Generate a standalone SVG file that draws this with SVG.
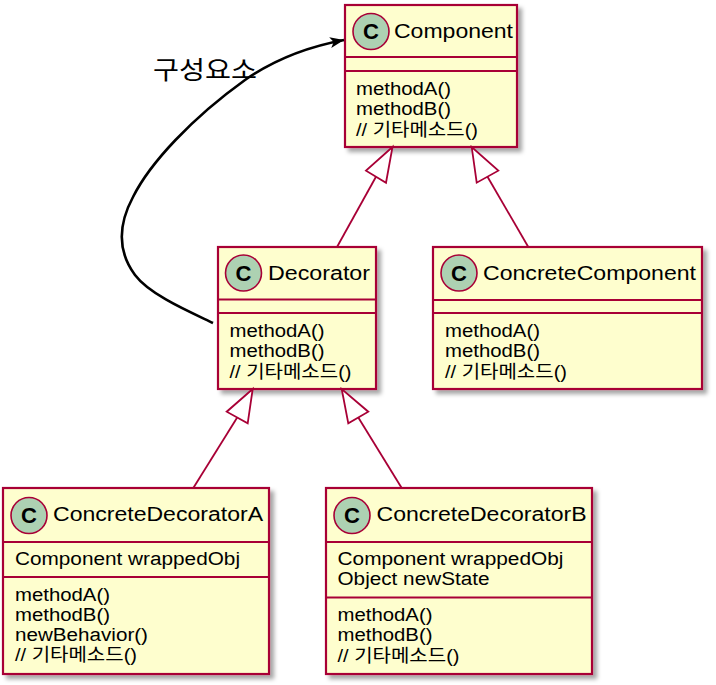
<svg xmlns="http://www.w3.org/2000/svg" width="716" height="685" viewBox="0 0 716 685">
  <defs>
    <filter id="shadow" x="-10%" y="-10%" width="130%" height="130%">
      <feDropShadow dx="4" dy="4" stdDeviation="2.2" flood-color="#000" flood-opacity="0.35"/>
    </filter>
    <marker id="arrow" markerUnits="userSpaceOnUse" markerWidth="15" markerHeight="12" refX="14" refY="5.5" orient="auto" viewBox="0 0 15 11">
      <path d="M0,0 L14,5.5 L0,11 L3.5,5.5 z" fill="#000"/>
    </marker>
  </defs>
  <style>
    .box { fill: #FEFECE; stroke: #A80036; stroke-width: 2.2; }
    .sep { stroke: #A80036; stroke-width: 2; }
    .badge { fill: #ADD1B2; stroke: #A80036; stroke-width: 1.6; }
    .badgeC { font-family: "Liberation Sans", Arial, sans-serif; font-weight: bold; font-size: 22px; fill: #000; text-anchor: middle; }
    .title { font-family: "Liberation Sans", Arial, sans-serif; font-size: 19.5px; fill: #000; }
    .mem { font-family: "Liberation Sans", "Noto Sans CJK KR", sans-serif; font-size: 18px; fill: #000; }
    .inh { stroke: #A80036; stroke-width: 1.8; fill: none; }
    .tri { stroke: #A80036; stroke-width: 1.8; fill: #FFFFFF; }
    .assoc { stroke: #000; stroke-width: 2.6; fill: none; }
    .lbl { font-family: "Noto Sans CJK KR", sans-serif; font-size: 25px; fill: #000; }
  </style>

  <g id="Component">
    <rect class="box" x="345" y="5" width="172" height="142" filter="url(#shadow)"/>
    <circle class="badge" cx="371" cy="31.5" r="18"/>
    <text class="badgeC" x="371" y="39.3">C</text>
    <text class="title" x="394" y="38" textLength="119" lengthAdjust="spacingAndGlyphs">Component</text>
    <line class="sep" x1="345" y1="57" x2="517" y2="57"/>
    <line class="sep" x1="345" y1="71" x2="517" y2="71"/>
    <text class="mem" x="356" y="95" textLength="95" lengthAdjust="spacingAndGlyphs">methodA()</text>
    <text class="mem" x="356" y="115.3" textLength="95" lengthAdjust="spacingAndGlyphs">methodB()</text>
    <text class="mem" x="356" y="135.6" textLength="122" lengthAdjust="spacingAndGlyphs">// 기타메소드()</text>
  </g>

  <g id="Decorator">
    <rect class="box" x="218" y="247" width="158" height="142" filter="url(#shadow)"/>
    <circle class="badge" cx="243.5" cy="273" r="18"/>
    <text class="badgeC" x="243.5" y="280.8">C</text>
    <text class="title" x="268" y="280" textLength="102" lengthAdjust="spacingAndGlyphs">Decorator</text>
    <line class="sep" x1="218" y1="299.5" x2="376" y2="299.5"/>
    <line class="sep" x1="218" y1="313" x2="376" y2="313"/>
    <text class="mem" x="229.5" y="337" textLength="95" lengthAdjust="spacingAndGlyphs">methodA()</text>
    <text class="mem" x="229.5" y="357.3" textLength="95" lengthAdjust="spacingAndGlyphs">methodB()</text>
    <text class="mem" x="229.5" y="377.6" textLength="122" lengthAdjust="spacingAndGlyphs">// 기타메소드()</text>
  </g>

  <g id="ConcreteComponent">
    <rect class="box" x="433" y="247" width="269" height="142" filter="url(#shadow)"/>
    <circle class="badge" cx="459" cy="273" r="18"/>
    <text class="badgeC" x="459" y="280.8">C</text>
    <text class="title" x="483" y="280" textLength="213" lengthAdjust="spacingAndGlyphs">ConcreteComponent</text>
    <line class="sep" x1="433" y1="300" x2="702" y2="300"/>
    <line class="sep" x1="433" y1="313" x2="702" y2="313"/>
    <text class="mem" x="445" y="337" textLength="95" lengthAdjust="spacingAndGlyphs">methodA()</text>
    <text class="mem" x="445" y="357.3" textLength="95" lengthAdjust="spacingAndGlyphs">methodB()</text>
    <text class="mem" x="445" y="377.6" textLength="122" lengthAdjust="spacingAndGlyphs">// 기타메소드()</text>
  </g>

  <g id="ConcreteDecoratorA">
    <rect class="box" x="3" y="488" width="266" height="186" filter="url(#shadow)"/>
    <circle class="badge" cx="29" cy="515.5" r="18"/>
    <text class="badgeC" x="29" y="523.3">C</text>
    <text class="title" x="53" y="521" textLength="210" lengthAdjust="spacingAndGlyphs">ConcreteDecoratorA</text>
    <line class="sep" x1="3" y1="542" x2="269" y2="542"/>
    <text class="mem" x="15" y="565" textLength="225" lengthAdjust="spacingAndGlyphs">Component wrappedObj</text>
    <line class="sep" x1="3" y1="577" x2="269" y2="577"/>
    <text class="mem" x="15" y="600.5" textLength="95" lengthAdjust="spacingAndGlyphs">methodA()</text>
    <text class="mem" x="15" y="620.8" textLength="95" lengthAdjust="spacingAndGlyphs">methodB()</text>
    <text class="mem" x="15" y="641.1" textLength="133" lengthAdjust="spacingAndGlyphs">newBehavior()</text>
    <text class="mem" x="15" y="661.4" textLength="122" lengthAdjust="spacingAndGlyphs">// 기타메소드()</text>
  </g>

  <g id="ConcreteDecoratorB">
    <rect class="box" x="326" y="488" width="266" height="186" filter="url(#shadow)"/>
    <circle class="badge" cx="352" cy="515.5" r="18"/>
    <text class="badgeC" x="352" y="523.3">C</text>
    <text class="title" x="376.5" y="521" textLength="210" lengthAdjust="spacingAndGlyphs">ConcreteDecoratorB</text>
    <line class="sep" x1="326" y1="542" x2="592" y2="542"/>
    <text class="mem" x="337.5" y="565" textLength="226" lengthAdjust="spacingAndGlyphs">Component wrappedObj</text>
    <text class="mem" x="337.5" y="585.3" textLength="152" lengthAdjust="spacingAndGlyphs">Object newState</text>
    <line class="sep" x1="326" y1="597.5" x2="592" y2="597.5"/>
    <text class="mem" x="337.5" y="621" textLength="95" lengthAdjust="spacingAndGlyphs">methodA()</text>
    <text class="mem" x="337.5" y="641.3" textLength="95" lengthAdjust="spacingAndGlyphs">methodB()</text>
    <text class="mem" x="337.5" y="661.6" textLength="122" lengthAdjust="spacingAndGlyphs">// 기타메소드()</text>
  </g>

  <g id="connectors">
    <line class="inh" x1="337" y1="247" x2="376" y2="176.7"/>
    <polygon class="tri" points="392.5,147 366,170.7 386,182.7"/>
    <line class="inh" x1="528.3" y1="247" x2="487.5" y2="176.7"/>
    <polygon class="tri" points="471.7,147 476.7,182.7 498.3,170.7"/>
    <line class="inh" x1="193.3" y1="488" x2="237.2" y2="417.5"/>
    <polygon class="tri" points="252.7,389 226.7,411.7 247.7,423.3"/>
    <line class="inh" x1="401.7" y1="488" x2="358.3" y2="417.5"/>
    <polygon class="tri" points="341.7,389 348.3,423.3 368.3,411.7"/>
    <path class="assoc" d="M213,323 C190,312 150,295 135,275 C118,252 118,225 133,197 C150,163 192,118 245,80 C278,57 312,46 344,40" marker-end="url(#arrow)"/>
    <text class="lbl" x="153" y="79" textLength="104" lengthAdjust="spacingAndGlyphs">구성요소</text>
  </g>
</svg>
